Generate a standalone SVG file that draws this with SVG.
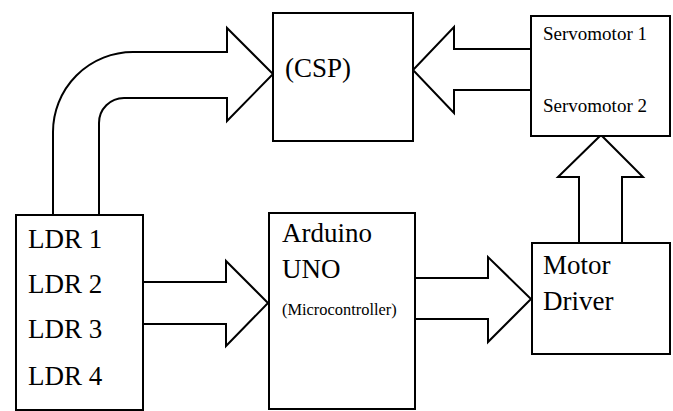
<svg xmlns="http://www.w3.org/2000/svg" width="673" height="411" viewBox="0 0 673 411">
<style>
.box{fill:#fff;stroke:#000;stroke-width:2}
.arr{fill:#fff;stroke:#000;stroke-width:2;stroke-linejoin:miter}
text{font-family:"Liberation Serif","Times New Roman",serif;fill:#000}
.big{font-size:27px}
.sm{font-size:16.4px}
.srv{font-size:19px}
</style>
<rect width="673" height="411" fill="#fff"/>
<g id="connectors">
<path class="arr" d="M53,215 L53,132 A80,80 0 0 1 133,52 L227,52 L227,28 L273,74 L227,121 L227,98 L124,98 A25,25 0 0 0 99,123 L99,215 Z"/>
<path class="arr" d="M531,49 L454,49 L454,27 L413,70 L454,113 L454,90 L531,90 Z"/>
<path class="arr" d="M579,243 L579,177 L558,177 L601,135 L643,177 L622,177 L622,243 Z"/>
<path class="arr" d="M143,282 L226,282 L226,261 L268,303 L226,346 L226,324 L143,324 Z"/>
<path class="arr" d="M415,278 L488,278 L488,257 L531,299 L488,342 L488,319 L415,319 Z"/>
</g>
<g id="csp">
<rect class="box" x="273" y="13" width="140" height="128"/>
<text class="big" x="285" y="77">(CSP)</text>
</g>
<g id="servo">
<rect class="box" x="531" y="16" width="139" height="120"/>
<text class="srv" x="543" y="40">Servomotor 1</text>
<text class="srv" x="543" y="112">Servomotor 2</text>
</g>
<g id="ldr">
<rect class="box" x="16" y="215" width="127" height="195"/>
<text class="big" x="28" y="248">LDR 1</text>
<text class="big" x="28" y="293">LDR 2</text>
<text class="big" x="28" y="338">LDR 3</text>
<text class="big" x="28" y="385">LDR 4</text>
</g>
<g id="arduino">
<rect class="box" x="269" y="213" width="146" height="196"/>
<text class="big" x="282" y="242">Arduino</text>
<text class="big" x="282" y="278">UNO</text>
<text class="sm" x="282" y="315">(Microcontroller)</text>
</g>
<g id="motordriver">
<rect class="box" x="532" y="243" width="138" height="111"/>
<text class="big" x="543" y="274">Motor</text>
<text class="big" x="543" y="310">Driver</text>
</g>
</svg>
